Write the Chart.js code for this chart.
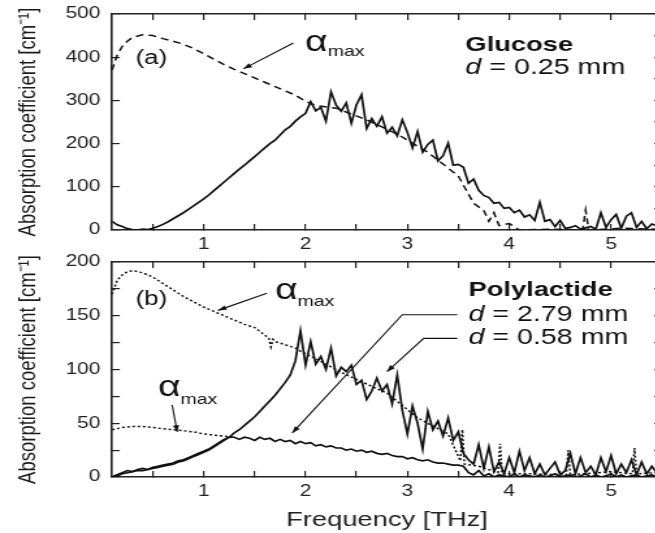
<!DOCTYPE html>
<html>
<head>
<meta charset="utf-8">
<script src="https://cdn.jsdelivr.net/npm/chart.js@4.4.0/dist/chart.umd.min.js"></script>
<style>
  html, body { margin: 0; padding: 0; background: #fff; }
  #wrap { position: relative; width: 655px; height: 533px; overflow: hidden; }
  canvas { position: absolute; left: 0; }
</style>
</head>
<body>
<div id="wrap">
  <canvas id="chartA" width="509" height="252" style="top:0;width:661.5px;height:252px"></canvas>
  <canvas id="chartB" width="509" height="281" style="top:252px;width:661.5px;height:281px"></canvas>
</div>
<script>
// frequency grid shared by the measured spectra (THz)
const freq = [
  0.10,0.15,0.20,0.25,0.30,0.35,0.40,0.45,0.50,0.55,
  0.60,0.65,0.70,0.75,0.80,0.85,0.90,0.95,1.00,1.05,
  1.10,1.15,1.20,1.25,1.30,1.35,1.40,1.45,1.50,1.55,
  1.60,1.65,1.70,1.75,1.80,1.85,1.90,1.95,2.00,2.05,
  2.10,2.15,2.20,2.25,2.30,2.35,2.40,2.45,2.50,2.55,
  2.60,2.65,2.70,2.75,2.80,2.85,2.90,2.95,3.00,3.05,
  3.10,3.15,3.20,3.25,3.30,3.35,3.40,3.45,3.50,3.55,
  3.60,3.65,3.70,3.75,3.80,3.85,3.90,3.95,4.00,4.05,
  4.10,4.15,4.20,4.25,4.30,4.35,4.40,4.45,4.50,4.55,
  4.60,4.65,4.70,4.75,4.80,4.85,4.90,4.95,5.00,5.05,
  5.10,5.15,5.20,5.25,5.30,5.35,5.40,5.45
];

// (a) glucose, d = 0.25 mm
const glucose = [
  20, 12, 8, 3, 1, 0, 2, 1, 4, 8,
  13, 19, 26, 33, 40, 48, 56, 64, 72, 81,
  91, 101, 111, 121, 131, 141, 150, 160, 170, 180,
  190, 200, 208, 220, 232, 240, 252, 262, 270, 297,
  276, 284, 252, 320, 289, 275, 294, 247, 290, 313,
  235, 258, 240, 262, 224, 238, 218, 255, 226, 190,
  228, 180, 198, 208, 160, 172, 201, 150, 152, 145,
  108, 118, 92, 80, 75, 62, 64, 50, 52, 40,
  46, 30, 35, 22, 64, 20, 24, 8, 22, 4,
  6, 10, 2, 5, 8, 2, 40, 6, 24, 36,
  4, 32, 40, 6, 20, 3, 14, 10
];
const freqAlphaA = [0.10,0.15,0.20,0.25,0.30,0.40,0.50,0.60,0.70,0.80,0.90,1.00,1.10,1.20,1.30,1.40,1.50,1.60,1.70,1.80,1.90,2.00,2.10,
  2.30,2.60,2.90,3.20,3.50,3.65,3.75,3.80,3.85,3.90,4.00,4.10,4.40,4.72,4.75,4.78,5.10,5.45];
const alphaA = [370,405,425,437,446,452,450,443,437,430,420,408,395,383,372,362,352,342,332,322,312,298,288,
  282,255,222,180,125,62,45,20,40,10,15,0,2,0,46,0,4,2];

// (b) polylactide, d = 0.58 mm and d = 2.79 mm
const pla058 = [
  0, 1, 3, 4, 5, 6, 6, 7, 8, 9,
  10, 11, 12, 14, 15, 17, 19, 21, 23, 25,
  28, 31, 34, 37, 41, 44, 48, 52, 56, 61,
  66, 71, 76, 82, 88, 95, 108, 136, 104, 126,
  105, 112, 100, 120, 94, 102, 98, 104, 86, 90,
  72, 80, 92, 80, 86, 68, 95, 62, 40, 66,
  50, 26, 61, 44, 52, 38, 55, 34, 42, 22,
  16, 12, 30, 8, 28, 5, 14, 3, 18, 4,
  24, 6, 18, 3, 12, 2, 8, 14, 2, 6,
  22, 3, 18, 4, 10, 2, 18, 5, 20, 3,
  12, 4, 16, 2, 14, 3, 10, 4
];
const pla279 = [
  0, 2, 4, 6, 5, 7, 8, 7, 9, 10,
  11, 12, 13, 15, 16, 18, 20, 22, 24, 26,
  29, 32, 35, 37, 37, 35, 37, 36, 34, 37,
  35, 36, 33, 35, 33, 34, 31, 33, 31, 32,
  29, 30, 28, 29, 27, 27, 25, 26, 24, 25,
  23, 24, 22, 21, 22, 20, 19, 19, 17, 18,
  16, 15, 16, 14, 13, 13, 12, 11, 11, 10,
  4, 2, 6, 1, 3, 0, 2, 1, 0, 3,
  0, 2, 1, 0, 2, 0, 1, 3, 0, 1,
  2, 0, 1, 3, 0, 2, 0, 1, 3, 0,
  2, 0, 1, 2, 0, 1, 2, 0
];
const freqAlphaB1 = [0.10,0.15,0.20,0.25,0.30,0.40,0.50,0.60,0.70,0.80,0.90,1.00,1.10,1.20,1.30,1.40,1.50,1.60,
  1.64,1.66,1.68,1.70,1.80,1.90,1.95,2.10,2.40,2.80,3.10,3.40,3.52,3.54,3.56,3.70,3.89,3.91,3.93,4.20,
  4.56,4.58,4.60,5.00,5.21,5.23,5.25,5.45];
const alphaB1 = [170,183,188,191,192,190,186,180,174,168,163,158,154,150,146,142,139,132,
  129,121,128,126,123,120,117,110,95,78,55,40,15,44,12,10,4,31,3,3,
  2,25,2,5,3,27,3,4];
const freqAlphaB2 = [0.10,0.20,0.30,0.40,0.50,0.60,0.70,0.80,0.90,1.00,1.10,1.20,1.30];
const alphaB2 = [44,46,47,47,46,45,44,43,42,40,39,38,37];

const FONT = "'Liberation Sans', Arial, Helvetica, sans-serif";
const INK = '#111';

const pts = (xs, ys) => xs.map((x, i) => ({ x: x, y: ys[i] }));

function line(data, dash) {
  return { data: data, borderColor: INK, borderWidth: dash ? 1.5 : 1.7, borderDash: dash || [],
           pointRadius: 0, fill: false, tension: 0 };
}

// annotations drawn in data coordinates
function notes(texts, arrows) {
  return {
    id: 'notes',
    afterDatasetsDraw(chart) {
      const ctx = chart.ctx;
      const px = v => chart.scales.x.getPixelForValue(v);
      const py = v => chart.scales.y.getPixelForValue(v);
      ctx.save();
      ctx.fillStyle = INK;
      ctx.strokeStyle = INK;
      ctx.textBaseline = 'middle';
      ctx.textAlign = 'left';
      texts.forEach(t => {
        let x = px(t.x);
        t.parts.forEach(p => {
          ctx.font = p.font;
          ctx.fillText(p.text, x, py(t.y) + (p.dy || 0));
          x += ctx.measureText(p.text).width;
        });
      });
      arrows.forEach(a => {
        ctx.lineWidth = 1.1;
        ctx.beginPath();
        a.forEach((p, i) => i ? ctx.lineTo(px(p[0]), py(p[1])) : ctx.moveTo(px(p[0]), py(p[1])));
        ctx.stroke();
        const n = a.length;
        const x1 = px(a[n - 2][0]), y1 = py(a[n - 2][1]);
        const x2 = px(a[n - 1][0]), y2 = py(a[n - 1][1]);
        const ang = Math.atan2(y2 - y1, x2 - x1);
        ctx.beginPath();
        ctx.moveTo(x2, y2);
        ctx.lineTo(x2 - 7 * Math.cos(ang - 0.35), y2 - 7 * Math.sin(ang - 0.35));
        ctx.lineTo(x2 - 7 * Math.cos(ang + 0.35), y2 - 7 * Math.sin(ang + 0.35));
        ctx.closePath();
        ctx.fill();
      });
      ctx.restore();
    }
  };
}

// no automatic label padding: the frame is placed by hand
function fixBox(w, h) {
  return s => {
    if (w !== null) s.width = w;
    if (h !== null) s.height = h;
    s.paddingLeft = 0; s.paddingRight = 0; s.paddingTop = 0; s.paddingBottom = 0;
  };
}

function panel(id, cfg) {
  const frameGrid = { drawOnChartArea: false, drawTicks: true, tickLength: -6, color: '#222', lineWidth: 1.2 };
  const frameBorder = { display: true, color: '#222', width: 1.6 };
  return new Chart(document.getElementById(id), {
    type: 'line',
    data: { datasets: cfg.datasets },
    plugins: [notes(cfg.texts, cfg.arrows)],
    options: {
      responsive: false,
      devicePixelRatio: 1,
      animation: false,
      layout: { autoPadding: false, padding: { left: 0, right: 0, top: cfg.padTop, bottom: 0 } },
      plugins: { legend: { display: false }, tooltip: { enabled: false } },
      scales: {
        x: {
          type: 'linear', position: 'bottom', min: 0.1, max: 5.5,
          border: frameBorder, grid: frameGrid,
          ticks: { stepSize: 0.5, includeBounds: false, autoSkip: false, maxRotation: 0, padding: 11,
                   color: '#222', font: { family: FONT, size: 16 },
                   callback: v => Number.isInteger(v) ? String(v) : '' },
          title: { display: cfg.xTitle, text: 'Frequency [THz]', color: '#222',
                   font: { family: FONT, size: 21 }, padding: { top: 0, bottom: 0 } },
          afterFit: fixBox(null, cfg.xHeight)
        },
        xTop: {
          type: 'linear', position: 'top', min: 0.1, max: 5.5,
          border: frameBorder, grid: frameGrid,
          ticks: { display: false, stepSize: 0.5, includeBounds: false, autoSkip: false },
          afterFit: fixBox(null, 0)
        },
        y: {
          type: 'linear', position: 'left', min: 0, max: cfg.ymax,
          border: frameBorder, grid: frameGrid,
          ticks: { stepSize: cfg.ystep, padding: 15, color: '#222', font: { family: FONT, size: 16 },
                   callback: v => v % cfg.ylabel === 0 ? String(v) : '' },
          title: { display: true, text: 'Absorption coefficient [cm\u207B\u00B9]', color: '#1a1a1a',
                   font: { family: FONT, size: 18.5 }, padding: { top: 11, bottom: 0 } },
          afterFit: fixBox(86.15, null)
        },
        yRight: {
          type: 'linear', position: 'right', min: 0, max: cfg.ymax,
          border: frameBorder, grid: frameGrid,
          ticks: { display: false, stepSize: cfg.ystep },
          afterFit: fixBox(0, null)
        }
      }
    }
  });
}

panel('chartA', {
  padTop: 14, xHeight: 22, xTitle: false, ymax: 500, ystep: 50, ylabel: 100,
  datasets: [
    line(pts(freq, glucose)),
    line(pts(freqAlphaA, alphaA), [6, 4])
  ],
  texts: [
    { x: 0.33, y: 398, parts: [{ text: '(a)', font: `20px ${FONT}` }] },
    { x: 1.995, y: 433, parts: [{ text: '\u03B1', font: `30px ${FONT}` },
                                { text: 'max', font: `15px ${FONT}`, dy: 9 }] },
    { x: 3.57, y: 428, parts: [{ text: 'Glucose', font: `bold 21px ${FONT}` }] },
    { x: 3.57, y: 375, parts: [{ text: 'd', font: `italic 22px ${FONT}` },
                               { text: ' = 0.25 mm', font: `22px ${FONT}` }] }
  ],
  arrows: [
    [[1.88, 433], [1.39, 373]]
  ]
});

panel('chartB', {
  padTop: 10, xHeight: 56, xTitle: true, ymax: 200, ystep: 25, ylabel: 50,
  datasets: [
    line(pts(freq, pla058)),
    line(pts(freq, pla279)),
    line(pts(freqAlphaB1, alphaB1), [2, 2]),
    line(pts(freqAlphaB2, alphaB2), [2, 2])
  ],
  texts: [
    { x: 0.33, y: 165, parts: [{ text: '(b)', font: `20px ${FONT}` }] },
    { x: 1.70, y: 173, parts: [{ text: '\u03B1', font: `30px ${FONT}` },
                               { text: 'max', font: `15px ${FONT}`, dy: 11 }] },
    { x: 0.55, y: 83, parts: [{ text: '\u03B1', font: `30px ${FONT}` },
                              { text: 'max', font: `15px ${FONT}`, dy: 12 }] },
    { x: 3.60, y: 174, parts: [{ text: 'Polylactide', font: `bold 21px ${FONT}` }] },
    { x: 3.60, y: 151, parts: [{ text: 'd', font: `italic 22px ${FONT}` },
                               { text: ' = 2.79 mm', font: `22px ${FONT}` }] },
    { x: 3.60, y: 129, parts: [{ text: 'd', font: `italic 22px ${FONT}` },
                               { text: ' = 0.58 mm', font: `22px ${FONT}` }] }
  ],
  arrows: [
    [[1.62, 171], [1.14, 155]],
    [[0.69, 67], [0.74, 42]],
    [[3.49, 151], [2.95, 151], [1.87, 41]],
    [[3.49, 129], [3.16, 129], [2.80, 98]]
  ]
});
</script>
</body>
</html>
